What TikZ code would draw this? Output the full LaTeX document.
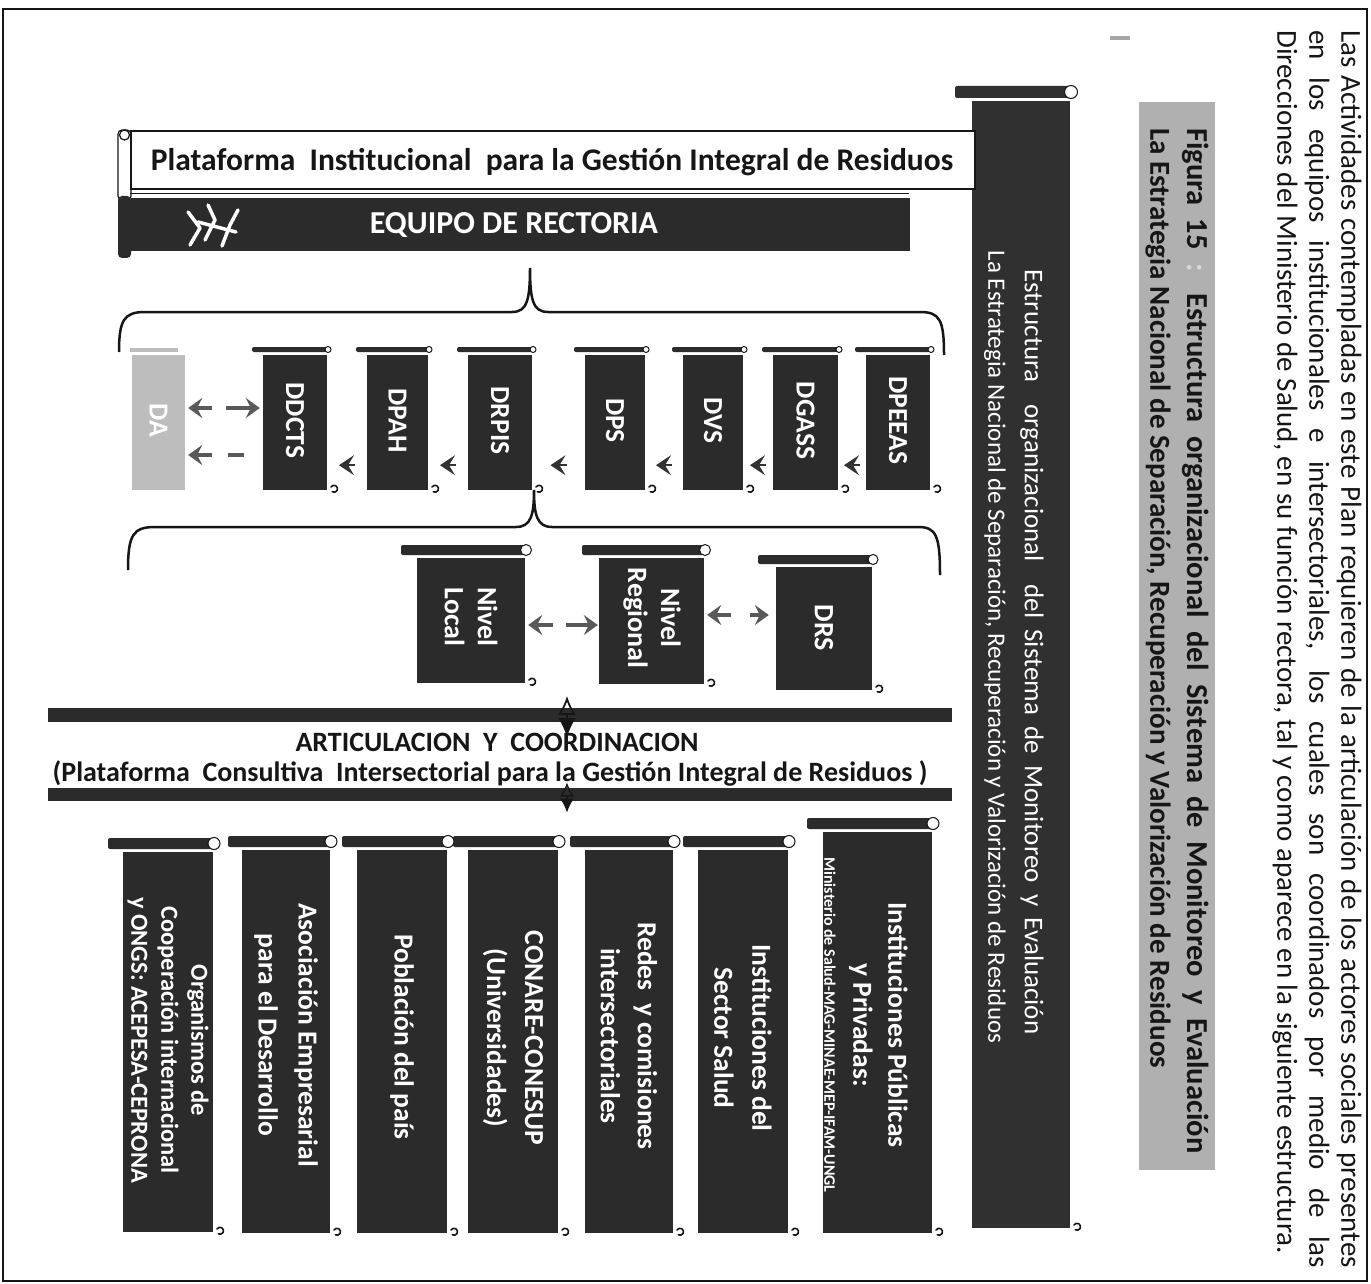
\documentclass[tikz,border=0pt]{standalone}
\usepackage{fontspec}
\setmainfont{Carlito}
\usetikzlibrary{arrows.meta,fit,calc}
\definecolor{dk}{HTML}{2B2B2B}
\definecolor{dkb}{HTML}{303030}
\definecolor{hl}{HTML}{B0B0B0}
\definecolor{lg}{HTML}{BDBDBD}
\definecolor{ink}{HTML}{161616}
\newcommand\fsz[2]{\fontsize{#1}{#2}\selectfont}
% name, x1, y1, x2, y2, roll thickness, roll overhang, fill
\newcommand\scroll[8]{%
  \fill[#8, rounded corners=2pt] ({#2-#7},{#3-3-#6}) rectangle ({#4},{#3-3});
  \draw[line width=1pt, ink, fill=white] ({#4+1},{#3-3-#6/2}) circle[radius={#6*0.5+0.5}];
  \node[fill=#8, inner sep=0pt, fit={(#2,#3) (#4,#5)}] (#1) {};
  \draw[line width=1.6pt, ink, line cap=round] ({#4+4},{#5-3}) arc[start angle=150, end angle=-120, radius=3.5pt];
}
\newcommand\chevbetween[2]{\draw[chev] ($(#1.south west)!0.5!(#2.south east)+(8,-25)$) -- +(-16,0);}
\tikzset{
 lbl/.style={rotate=-90, text=white, font=\bfseries, align=center, inner sep=0pt},
 para/.style={rotate=-90, font=\fsz{29}{32}, inner sep=0pt, text=ink},
 captxt/.style={rotate=-90, font=\bfseries\fsz{29}{32}, inner sep=0pt, text=ink},
 chev/.style={draw=black!80, line width=2pt, -{Stealth[length=15pt,width=20pt,inset=6pt]}},
 farr/.style={draw=black!65, line width=3.5pt, -{Stealth[length=14pt,width=20pt,inset=5pt]}},
 brc/.style={draw=ink, line width=2.5pt},
}
\begin{document}
\begin{tikzpicture}[x=1pt,y=-1pt]
\useasboundingbox (0,0) rectangle (1371,1284);
\fill[white] (0,0) rectangle (1371,1284);
\draw[line width=1.3pt, ink] (3,9) rectangle (1367,1281);
\fill[black!35] (1110,36) rectangle (1130,40);

% paragraph
\node[para, anchor=west] (p1) at (1349,30) {\hbox to 1238pt{Las Actividades contempladas en este Plan requieren de la articulación de los actores sociales presentes}};
\node[para, anchor=west] (p2) at (1317,30) {\hbox to 1238pt{en los equipos institucionales e intersectoriales, los cuales son coordinados por medio de las}};
\node[para, anchor=west] (p3) at (1285,30) {Direcciones del Ministerio de Salud, en su función rectora, tal y como aparece en la siguiente estructura.};

% caption
\fill[hl] (1139,102) rectangle (1215,1170);
\node[captxt, font=\bfseries\fsz{30.5}{32}, anchor=west] (c1) at (1196,128) {\hbox to 1025pt{Figura 15 \textcolor{white!85!black}{:} Estructura organizacional del Sistema de Monitoreo y Evaluación}};
\node[captxt, anchor=west] (c2) at (1158,128) {La Estrategia Nacional de Separación, Recuperación y Valorización de Residuos};

% big banner
\scroll{big}{972}{101}{1070}{1228}{12}{17}{dkb}
\node[lbl, font=\fsz{27}{30}] (big-l1) at (1032,652) {\hbox to 765pt{Estructura\ \ organizacional\ \ del Sistema de Monitoreo y Evaluación}};
\node[lbl, font=\fsz{25}{30}] (big-l2) at (995,647) {La Estrategia Nacional de Separación, Recuperación y Valorización de Residuos};

% plataforma institucional
\draw[ink, line width=1.2pt, fill=white, rounded corners=4pt] (118,130) rectangle (131,200);
\fill[dk, rounded corners=4pt] (118,196) rectangle (131,258);
\draw[ink, line width=1.2pt, fill=white] (124.5,135) circle[radius=5];
\node[draw=ink, line width=1.2pt, fill=white, fit={(131,131) (975,189)}, inner sep=0pt] (plat) {};
\draw[ink, line width=1.2pt] (plat.south west) ++(0,4) -- ++(779,0);
\node[font=\bfseries\fsz{31.5}{33}, text=ink] (plat-l) at (552,162) {Plataforma\ \ Institucional\ \ para la Gestión Integral de Residuos};
\node[fill=dk, inner sep=0pt, fit={(131,198) (910,251)}] (eq) {};
\draw[white, line width=3.5pt, line cap=round, line join=round] (190,245) -- (200,228) -- (188,212) (205,240) -- (215,220) -- (208,205) (222,246) -- (230,225) -- (238,210) (198,222) -- (236,232);
\node[font=\bfseries\fsz{32}{34}, text=white] (eq-l) at (514,225) {EQUIPO DE RECTORIA};

% upper brace
\draw[brc] (119,352) .. controls (119,320) and (124,312) .. (145,312) -- (512,312) .. controls (527,312) and (530,300) .. (530,268) .. controls (530,300) and (533,312) .. (548,312) -- (920,312) .. controls (940,312) and (944,320) .. (944,355);

% upper boxes
\scroll{dpeeas}{866}{355}{930}{490}{5}{11}{dk}
\scroll{dgass}{773}{355}{838}{490}{5}{11}{dk}
\scroll{dvs}{683}{355}{743}{490}{5}{11}{dk}
\scroll{dps}{585}{355}{645}{490}{5}{11}{dk}
\scroll{drpis}{468}{355}{532}{490}{5}{11}{dk}
\scroll{dpah}{367}{355}{428}{490}{5}{11}{dk}
\scroll{ddcts}{263}{355}{327}{490}{5}{11}{dk}
\fill[lg] (130,348) rectangle (178,352);
\node[fill=lg, inner sep=0pt, fit={(132,355) (185,490)}] (da) {};
\foreach \n/\t in {dpeeas/DPEEAS,dgass/DGASS,dvs/DVS,dps/DPS,drpis/DRPIS,dpah/DPAH,ddcts/DDCTS,da/DA}
  \node[lbl, font=\bfseries\fsz{27.5}{30}] (\n-l) at ([yshift=2pt]\n.center) {\t};
\chevbetween{dpeeas}{dgass}
\chevbetween{dgass}{dvs}
\chevbetween{dvs}{dps}
\chevbetween{dps}{drpis}
\chevbetween{drpis}{dpah}
\chevbetween{dpah}{ddcts}
\draw[farr] ([xshift=-51pt,yshift=14.5pt]ddcts.west) -- ([xshift=3pt,yshift=14.5pt]da.east);
\draw[farr] ([xshift=41pt,yshift=14.5pt]da.east) -- ([xshift=-3pt,yshift=14.5pt]ddcts.west);
\draw[farr] ([xshift=-51pt,yshift=-32.5pt]ddcts.west) -- ([xshift=3pt,yshift=-32.5pt]da.east);
\draw[draw=black!65, line width=4pt] ([xshift=43pt,yshift=-32.5pt]da.east) -- ([xshift=-19pt,yshift=-32.5pt]ddcts.west);

% lower brace
\draw[brc] (128,570) .. controls (128,535) and (133,527) .. (155,527) -- (516,527) .. controls (531,527) and (534,515) .. (534,490) .. controls (534,515) and (537,527) .. (552,527) -- (918,527) .. controls (936,527) and (940,535) .. (940,575);

% regional level
\scroll{loc}{417}{558}{525}{683}{10}{16}{dk}
\scroll{reg}{599}{558}{704}{684}{10}{17}{dk}
\scroll{drs}{776}{567}{872}{690}{9}{18}{dk}
\node[lbl, font=\bfseries\fsz{28}{33}] (loc-l) at (471,617) {Nivel\\Local};
\node[lbl, font=\bfseries\fsz{28}{33}] (reg-l) at (652,618) {Nivel\\Regional};
\node[lbl, font=\bfseries\fsz{28}{33}] (drs-l) at (824,628) {DRS};
\draw[farr] ([xshift=-45pt,yshift=13.5pt]drs.west) -- ([xshift=3pt,yshift=6pt]reg.east);
\draw[farr] ([xshift=46pt,yshift=6pt]reg.east) -- ([xshift=-7pt,yshift=13.5pt]drs.west);
\draw[farr] ([xshift=-46pt,yshift=-4pt]reg.west) -- ([xshift=3pt,yshift=-4.5pt]loc.east);
\draw[farr] ([xshift=41pt,yshift=-4.5pt]loc.east) -- ([xshift=-1pt,yshift=-4pt]reg.west);

% articulation bars
\node[fill=dk, inner sep=0pt, fit={(48,708) (952,722)}] (bar1) {};
\node[fill=dk, inner sep=0pt, fit={(48,788) (952,801)}] (bar2) {};
\draw[line width=1.8pt, ink, {Latex[open,length=19pt,width=18pt]}-{Latex[length=19pt,width=18pt]}] ([xshift=67pt,yshift=19pt]bar1.center) -- ([xshift=67pt,yshift=-22pt]bar1.center);
\draw[line width=1.4pt, ink, {Latex[open,length=14pt,width=14pt]}-{Latex[length=14pt,width=14pt]}] ([xshift=67pt,yshift=12pt]bar2.center) -- ([xshift=67pt,yshift=-18pt]bar2.center);
\node[font=\bfseries\fsz{28}{30}, text=ink] (art1) at (497,742) {ARTICULACION\ \ Y\ \ COORDINACION};
\node[font=\bfseries\fsz{28}{30}, text=ink] (art2) at (490,773) {(Plataforma\ \ Consultiva\ \ Intersectorial para la Gestión Integral de Residuos )};

% bottom boxes
\scroll{pub}{823}{832}{932}{1233}{11}{16}{dk}
\scroll{iss}{698}{850}{788}{1233}{11}{15}{dk}
\scroll{redes}{585}{850}{673}{1233}{11}{15}{dk}
\scroll{conare}{468}{850}{558}{1233}{11}{15}{dk}
\scroll{pobl}{357}{850}{447}{1233}{11}{15}{dk}
\scroll{asoc}{242}{850}{330}{1233}{11}{14}{dk}
\scroll{org}{123}{852}{213}{1232}{11}{15}{dk}
\node[lbl, font=\bfseries\fsz{27.5}{35}] (pub-l) at (866,1025) {Instituciones Públicas\\y Privadas:\\[-6pt]{\fsz{16}{18}Ministerio de Salud-MAG-MINAE-MEP-IFAM-UNGL}};
\node[lbl, font=\bfseries\fsz{27.5}{38}] (iss-l) at (743,1038) {Instituciones del\\Sector Salud};
\node[lbl, font=\bfseries\fsz{27.5}{37}] (redes-l) at (629,1036) {Redes\ \ y comisiones\\intersectoriales};
\node[lbl, font=\bfseries\fsz{27.5}{38}] (conare-l) at (513,1038) {CONARE-CONESUP\\(Universidades)};
\node[lbl, font=\bfseries\fsz{27.5}{38}] (pobl-l) at (402,1037) {Población del país};
\node[lbl, font=\bfseries\fsz{27.5}{40}] (asoc-l) at (286,1035) {Asociación Empresarial\\para el Desarrollo};
\node[lbl, font=\bfseries\fsz{24.5}{30}] (org-l) at (168,1040) {Organismos de\\Cooperación internacional\\y ONGS: ACEPESA-CEPRONA};
\end{tikzpicture}
\end{document}
